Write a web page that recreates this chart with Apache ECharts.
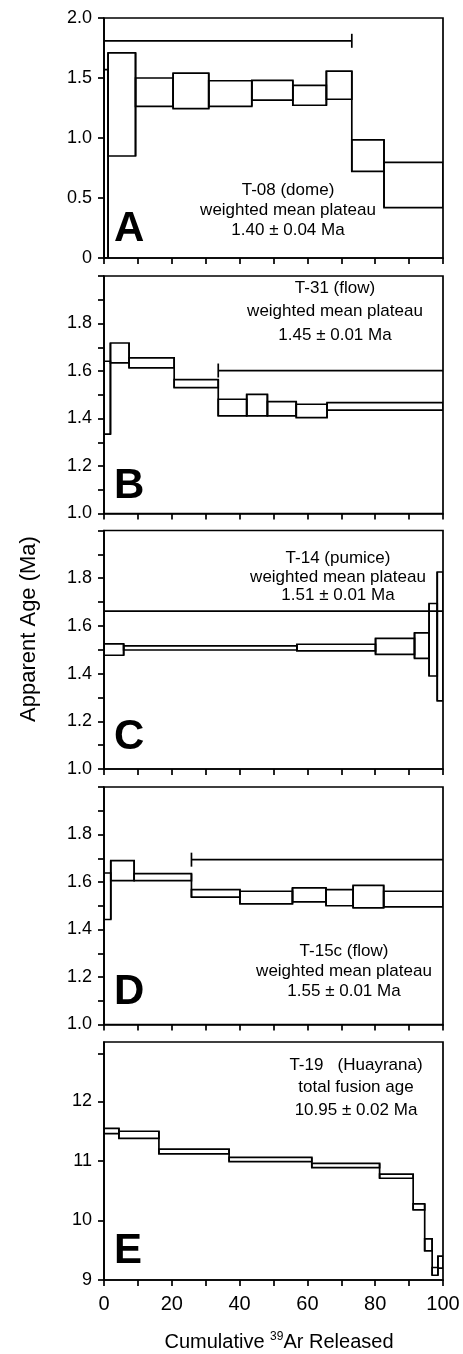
<!DOCTYPE html>
<html>
<head>
<meta charset="utf-8">
<script src="https://cdn.jsdelivr.net/npm/echarts@6/dist/echarts.min.js"></script>
<style>html,body{margin:0;padding:0;background:#fff}#c{width:463px;height:1354px}</style>
</head>
<body>
<div id="c"></div>
<script>
// ---- data (cumulative 39Ar % step edges, upper/lower age of each step box) ----
const aEdges = [0, 1.2, 9.3, 20.4, 30.9, 43.6, 55.7, 65.6, 73.1, 82.6, 100];
const aHi = [1.57, 1.71, 1.50, 1.54, 1.477, 1.48, 1.438, 1.558, 0.985, 0.797];
const aLo = [0, 0.85, 1.264, 1.245, 1.264, 1.315, 1.273, 1.323, 0.722, 0.42];
const aPlateau = [0, 73.1, 1.81];

const bEdges = [0, 1.9, 7.4, 20.7, 33.7, 42.1, 48.2, 56.7, 65.8, 100];
const bHi = [1.641, 1.718, 1.655, 1.564, 1.481, 1.502, 1.471, 1.46, 1.467];
const bLo = [1.334, 1.634, 1.613, 1.530, 1.411, 1.411, 1.411, 1.404, 1.435];
const bPlateau = [33.7, 100, 1.602];

const cEdges = [0, 5.8, 56.9, 80.1, 91.6, 95.9, 98.3, 100];
const cHi = [1.525, 1.516, 1.523, 1.548, 1.571, 1.694, 1.826];
const cLo = [1.477, 1.499, 1.495, 1.481, 1.464, 1.39, 1.286];
const cPlateau = [0, 100, 1.662];

const dEdges = [0, 2.0, 8.9, 25.8, 40.1, 55.6, 65.5, 73.5, 82.5, 100];
const dHi = [1.638, 1.69, 1.635, 1.568, 1.561, 1.575, 1.568, 1.586, 1.561];
const dLo = [1.442, 1.606, 1.606, 1.536, 1.508, 1.516, 1.50, 1.491, 1.495];
const dPlateau = [25.8, 100, 1.694];

const eEdges = [0, 4.4, 16.2, 36.9, 61.3, 81.3, 91.2, 94.6, 96.8, 98.5, 100];
const eHi = [11.55, 11.50, 11.20, 11.06, 10.96, 10.78, 10.28, 9.69, 9.21, 9.40];
const eLo = [11.46, 11.38, 11.12, 10.99, 10.89, 10.71, 10.18, 9.49, 9.08, 9.20];

// ---- tick values ----
const xTicks = [0, 10, 20, 30, 40, 50, 60, 70, 80, 90, 100];
const xLabels = [0, 20, 40, 60, 80, 100];
const yTicksA = [0, 0.5, 1.0, 1.5, 2.0];
const yTicksBCD = [1.0, 1.1, 1.2, 1.3, 1.4, 1.5, 1.6, 1.7, 1.8, 1.9, 2.0];
const yLabelsBCD = [1.0, 1.2, 1.4, 1.6, 1.8];
const yTicksE = [9, 10, 11, 12, 12.8];
const yLabelsE = [9, 10, 11, 12];

// ---- texts ----
const panelLetters = ['A', 'B', 'C', 'D', 'E'];
const notes = [
  ['T-08 (dome)', 'weighted mean plateau', '1.40 \u00b1 0.04 Ma'],
  ['T-31 (flow)', 'weighted mean plateau', '1.45 \u00b1 0.01 Ma'],
  ['T-14 (pumice)', 'weighted mean plateau', '1.51 \u00b1 0.01 Ma'],
  ['T-15c (flow)', 'weighted mean plateau', '1.55 \u00b1 0.01 Ma'],
  ['T-19   (Huayrana)', 'total fusion age', '10.95 \u00b1 0.02 Ma']
];

const FONT = '"Liberation Sans", Arial, sans-serif';
const LW = 1.7;

const panels = [
  {edges: aEdges, hi: aHi, lo: aLo, plateau: aPlateau, min: 0, max: 2, ticks: yTicksA, labels: yTicksA, fmt: v => v === 0 ? '0' : v.toFixed(1)},
  {edges: bEdges, hi: bHi, lo: bLo, plateau: bPlateau, min: 1, max: 2, ticks: yTicksBCD, labels: yLabelsBCD, fmt: v => v.toFixed(1)},
  {edges: cEdges, hi: cHi, lo: cLo, plateau: cPlateau, min: 1, max: 2, ticks: yTicksBCD, labels: yLabelsBCD, fmt: v => v.toFixed(1)},
  {edges: dEdges, hi: dHi, lo: dLo, plateau: dPlateau, min: 1, max: 2, ticks: yTicksBCD, labels: yLabelsBCD, fmt: v => v.toFixed(1)},
  {edges: eEdges, hi: eHi, lo: eLo, plateau: null, min: 9, max: 13, ticks: yTicksE, labels: yLabelsE, fmt: v => String(Math.round(v))}
];

// layout
const gridBoxes = [
  {top: 18, height: 240},
  {top: 276, height: 237.5},
  {top: 530.5, height: 238.5},
  {top: 787, height: 237.5},
  {top: 1042, height: 238}
];
const noteLayout = [
  {x: 288, y: 190, dy: 20},
  {x: 335, y: 288.5, dy: 23.3},
  {x: 338, y: 558.5, dy: 18.5},
  {x: 344, y: 951.7, dy: 20},
  {x: 356, y: 1065, dy: 22.5}
];
const letterY = [229, 486, 737.5, 992.5, 1251.7];

const chart = echarts.init(document.getElementById('c'), null, {renderer: 'canvas'});

const grid = [], xAxis = [], yAxis = [], series = [], graphic = [];
const lineStyle = {stroke: '#000', lineWidth: LW};

panels.forEach((p, i) => {
  const last = i === panels.length - 1;
  grid.push({left: 104, right: 20, top: gridBoxes[i].top, height: gridBoxes[i].height,
    show: true, borderColor: '#000', borderWidth: LW, backgroundColor: 'transparent'});
  xAxis.push({
    type: 'value', gridIndex: i, min: 0, max: 100, interval: 10,
    axisLine: {show: true, onZero: false, lineStyle: {color: '#000', width: LW}},
    axisTick: {show: true, inside: false, length: 6, lineStyle: {color: '#000', width: LW}, customValues: xTicks},
    axisLabel: {show: last, margin: 14, color: '#000', fontSize: 20, fontFamily: FONT, customValues: xLabels},
    splitLine: {show: false}
  });
  yAxis.push({
    type: 'value', gridIndex: i, min: p.min, max: p.max,
    axisLine: {show: true, onZero: false, lineStyle: {color: '#000', width: LW}},
    axisTick: {show: true, inside: false, length: 6, lineStyle: {color: '#000', width: LW}, customValues: p.ticks},
    axisLabel: {show: true, margin: 12, color: '#000', fontSize: 18, fontFamily: FONT, customValues: p.labels, formatter: p.fmt},
    splitLine: {show: false}
  });
  // step boxes
  const steps = p.hi.map((h, k) => [p.edges[k], p.edges[k + 1], p.lo[k], h]);
  series.push({
    type: 'custom', xAxisIndex: i, yAxisIndex: i, clip: true,
    data: steps,
    renderItem: (params, api) => {
      const a = api.coord([api.value(0), api.value(3)]);
      const b = api.coord([api.value(1), api.value(2)]);
      return {type: 'rect', shape: {x: a[0], y: a[1], width: b[0] - a[0], height: b[1] - a[1]},
        style: {fill: 'none', stroke: '#000', lineWidth: LW}};
    }
  });
  // vertical connectors between adjacent steps
  const joins = [];
  for (let k = 1; k < p.hi.length; k++) {
    joins.push([p.edges[k], Math.min(p.lo[k - 1], p.lo[k]), Math.max(p.hi[k - 1], p.hi[k])]);
  }
  series.push({
    type: 'custom', xAxisIndex: i, yAxisIndex: i, clip: true,
    data: joins,
    renderItem: (params, api) => {
      const a = api.coord([api.value(0), api.value(1)]);
      const b = api.coord([api.value(0), api.value(2)]);
      return {type: 'line', shape: {x1: a[0], y1: a[1], x2: b[0], y2: b[1]}, style: lineStyle};
    }
  });
  if (p.plateau) {
    series.push({
      type: 'custom', xAxisIndex: i, yAxisIndex: i, clip: false,
      data: [p.plateau],
      renderItem: (params, api) => {
        const x0 = api.value(0), x1 = api.value(1), y = api.value(2);
        const a = api.coord([x0, y]);
        const b = api.coord([x1, y]);
        const children = [{type: 'line', shape: {x1: a[0], y1: a[1], x2: b[0], y2: b[1]}, style: lineStyle}];
        const h = 7;
        if (x0 > 0) children.push({type: 'line', shape: {x1: a[0], y1: a[1] - h, x2: a[0], y2: a[1] + h}, style: lineStyle});
        if (x1 < 100) children.push({type: 'line', shape: {x1: b[0], y1: b[1] - h, x2: b[0], y2: b[1] + h}, style: lineStyle});
        return {type: 'group', children};
      }
    });
  }
  // annotation
  notes[i].forEach((t, k) => {
    graphic.push({type: 'text', x: noteLayout[i].x, y: noteLayout[i].y + k * noteLayout[i].dy,
      style: {text: t, textAlign: 'center', textVerticalAlign: 'middle', fontSize: 17, fontFamily: FONT, fill: '#000'}});
  });
  graphic.push({type: 'text', x: 114, y: letterY[i],
    style: {text: panelLetters[i], textAlign: 'left', textVerticalAlign: 'middle', fontSize: 42, fontWeight: 'bold', fontFamily: FONT, fill: '#000'}});
});

graphic.push({type: 'text', x: 28.5, y: 629, rotation: Math.PI / 2,
  style: {text: 'Apparent Age (Ma)', textAlign: 'center', textVerticalAlign: 'middle', fontSize: 22, fontFamily: FONT, fill: '#000'}});
graphic.push({type: 'text', x: 279, y: 1342,
  style: {text: '{a|Cumulative }{s|39}{a|Ar Released}', textAlign: 'center', textVerticalAlign: 'middle', fill: '#000',
    rich: {a: {fontSize: 20, fontFamily: FONT, fill: '#000', lineHeight: 22}, s: {fontSize: 12, fontFamily: FONT, fill: '#000', verticalAlign: 'top', lineHeight: 22}}}});

chart.setOption({animation: false, backgroundColor: '#fff', grid, xAxis, yAxis, series, graphic});
</script>
</body>
</html>
